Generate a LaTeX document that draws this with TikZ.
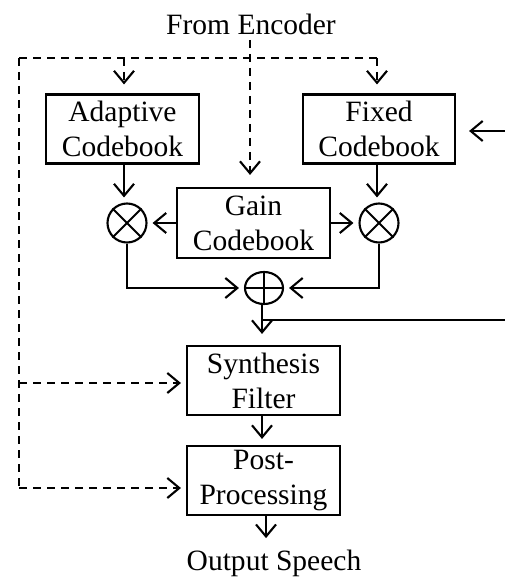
\documentclass[tikz,border=0pt]{standalone}
\usepackage{fontspec}
\setmainfont{Liberation Serif}
\usetikzlibrary{arrows.meta,shapes.geometric}
\begin{document}
\begin{tikzpicture}[x=1pt,y=-1pt,
  every node/.style={font=\fontsize{29.5}{35}\selectfont},
  box/.style={draw,line width=2.1pt,minimum width=153pt,minimum height=69pt,inner sep=0pt,align=center},
  mult/.style={draw,circle,line width=2.1pt,minimum size=39pt,inner sep=0pt},
  adder/.style={draw,ellipse,line width=2.1pt,minimum width=38pt,minimum height=32pt,inner sep=0pt},
  conn/.style={line width=2.1pt},
  tip/.style={-{Straight Barb[length=12pt,width=20pt]}},
  arr/.style={conn,tip},
  dsh/.style={line width=2.1pt,dash pattern=on 8pt off 6pt}
]
\useasboundingbox (0,0) rectangle (505,580);
% nodes
\node (enc) at (251,24) {From Encoder};
\node[box] (adap) at (122.5,129) {Adaptive\\Codebook};
\node[box,minimum width=152pt] (fixed) at (379,129) {Fixed\\Codebook};
\node[box,minimum height=70pt] (gain) at (253.5,223) {Gain\\Codebook};
\node[mult] (m1) at (127,223) {};
\node[mult] (m2) at (379,223) {};
\node[adder] (add) at (264,288) {};
\node[box] (synth) at (263.5,380.5) {Synthesis\\Filter};
\node[box] (post) at (263.5,480.5) {Post-\\Processing};
\node (out) at (274,563) {Output Speech};
% symbols inside circles
\draw[conn] (m1.north west) -- (m1.south east) (m1.north east) -- (m1.south west);
\draw[conn] (m2.north west) -- (m2.south east) (m2.north east) -- (m2.south west);
\draw[conn] (add.north) -- (add.south) (add.west) -- (add.east);
% coordinates
\coordinate (e0) at (250,40);
\coordinate (tl) at (19,58);
\coordinate (tr) at (377,58);
\coordinate (ta) at (124,58);
\coordinate (bl) at (19,488);
\coordinate (rin) at (505,131);
\coordinate (rfb) at (505,320);
\coordinate (jn) at (262,320);
% dashed control lines
\draw[dsh] (tl) -- (tr);
\draw[dsh,tip,shorten >=12pt] (e0) -- (gain.north -| e0);
\draw[dsh,tip,shorten >=9pt] (ta) -- (adap.north -| ta);
\draw[dsh,tip,shorten >=9pt] (tr) -- (fixed.north -| tr);
\draw[dsh] (tl) -- (bl);
\draw[dsh,tip,shorten >=5pt] (tl |- 0,383) -- (synth.west |- 0,383);
\draw[dsh,tip,shorten >=5pt] (bl) -- (post.west |- bl);
% solid connectors
\draw[arr,shorten >=13pt] (rin) -- (fixed.east |- rin);
\draw[arr,shorten >=5pt] (adap.south -| ta) -- (m1.north -| ta);
\draw[arr,shorten >=5pt] (fixed.south -| tr) -- (m2.north -| tr);
\draw[arr,shorten >=5pt] (gain.west) -- (m1.east);
\draw[arr,shorten >=5pt] (gain.east) -- (m2.west);
\draw[arr,shorten >=5pt] (m1.south) |- (add.west);
\draw[arr,shorten >=5pt] (m2.south) |- (add.east);
\draw[arr,shorten >=11pt] (add.south -| jn) -- (synth.north -| jn);
\draw[conn] (rfb) -- (jn);
\draw[arr,shorten >=6pt] (synth.south -| jn) -- (post.north -| jn);
\draw[arr,shorten >=8pt] (post.south -| 266,0) -- (out.north -| 266,0);
\end{tikzpicture}
\end{document}
